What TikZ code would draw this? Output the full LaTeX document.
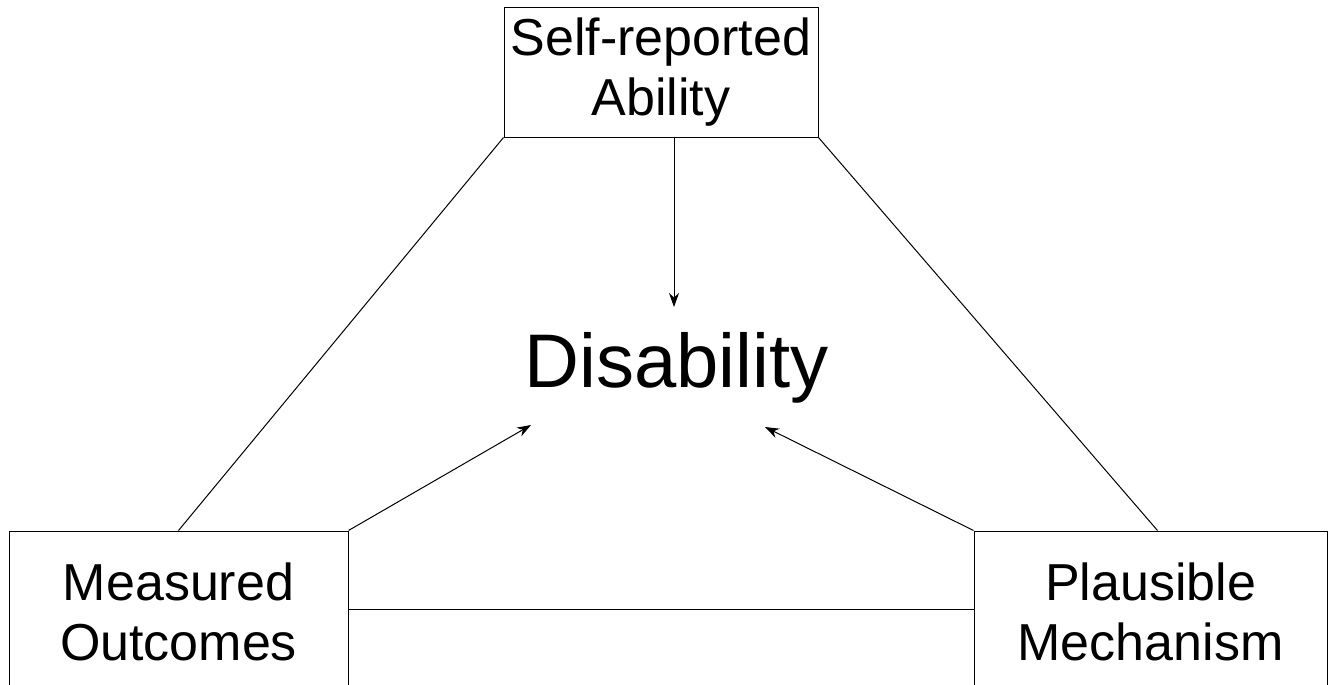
\documentclass[tikz,border=0pt]{standalone}
\usepackage{fontspec}
\setmainfont{Liberation Sans}
\usetikzlibrary{arrows.meta}
\begin{document}
\begin{tikzpicture}[x=1pt,y=-1pt,
  boxstyle/.style={draw,line width=1pt,inner sep=0pt,align=center,font=\fontsize{52}{60}\selectfont},
  link/.style={line width=1pt},
  arrowlink/.style={line width=1pt,-{Stealth[length=14pt,width=10pt]}}]
\useasboundingbox (0,0) rectangle (1336,685);
\clip (0,0) rectangle (1336,685);
\fill[white] (0,0) rectangle (1336,685);
\node[boxstyle,minimum width=314pt,minimum height=129pt] (sra) at (661,72.5) {Self-reported\\Ability};
\node[boxstyle,minimum width=339pt,minimum height=162pt] (mo) at (178.5,612) {Measured\\Outcomes};
\node[boxstyle,minimum width=353pt,minimum height=162pt] (pm) at (1150.5,612) {Plausible\\Mechanism};
\node[font=\fontsize{76}{90}\selectfont,anchor=base,inner sep=0pt] (dis) at (676.5,387) {Disability};
\coordinate (tipTop) at (674,307);
\coordinate (tipLeft) at (531,425);
\coordinate (tipRight) at (765,427);
\draw[link] (mo.north west) ++(170,0) coordinate (moTop) -- (sra.south west);
\draw[link] (pm.north east) ++(-170,0) coordinate (pmTop) -- (sra.south east);
\draw[link] (mo.east |- 0,609) -- (pm.west |- 0,609);
\draw[arrowlink] (sra.south -| tipTop) -- (tipTop);
\draw[arrowlink] (mo.north east) -- (tipLeft);
\draw[arrowlink] (pm.north west) -- (tipRight);
\end{tikzpicture}
\end{document}
